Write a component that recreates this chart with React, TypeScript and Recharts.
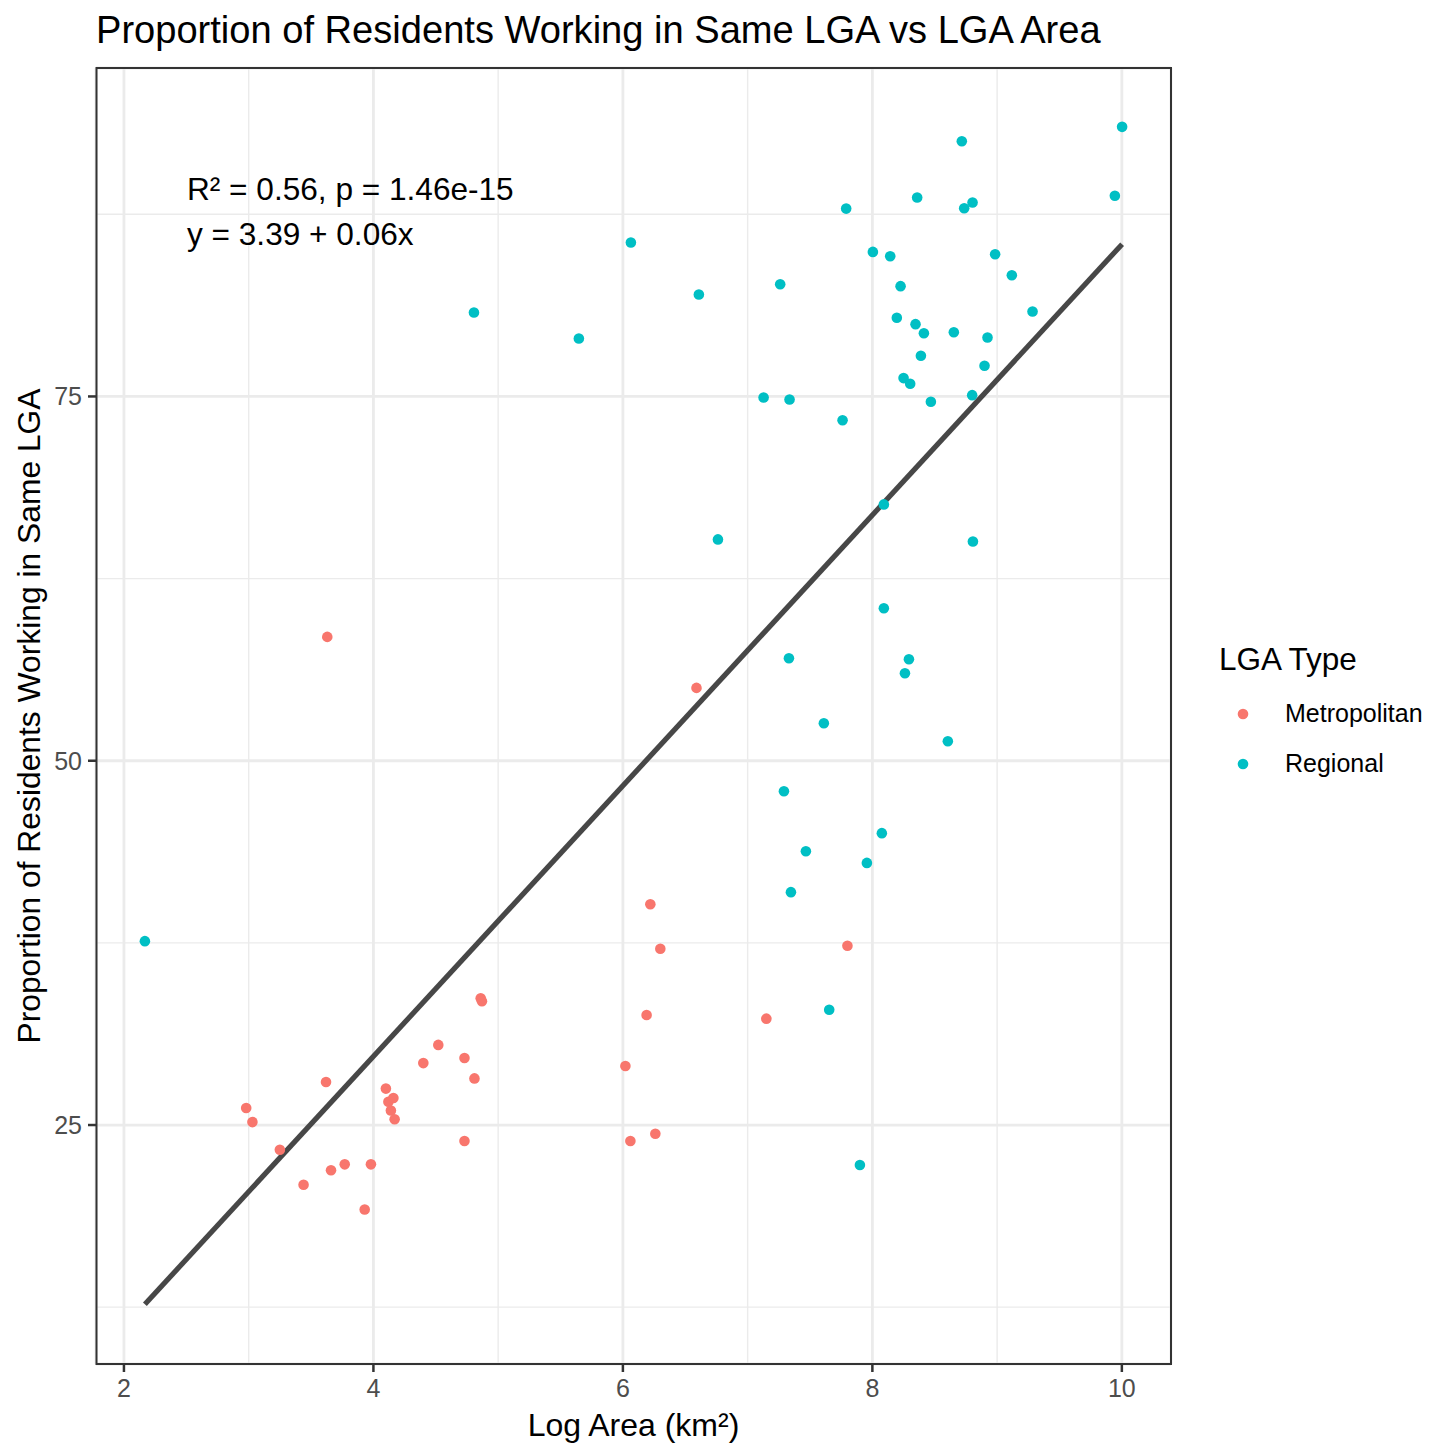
import { CartesianGrid, ReferenceLine, Scatter, ScatterChart, XAxis, YAxis } from "recharts";

// Log area (x) and share working in the same LGA (y).
const metroX = [
  2.98, 3.03, 3.25, 3.44, 3.62, 3.63, 3.66, 3.77, 3.93, 3.98, 4.1, 4.12, 4.16, 4.14, 4.17, 4.4,
  4.52, 4.73, 4.73, 4.81, 4.86, 4.87, 6.02, 6.06, 6.19, 6.22, 6.26, 6.3, 6.59, 7.15, 7.8,
];
const metroY = [
  26.17, 25.2, 23.3, 20.9, 27.95, 58.5, 21.9, 22.3, 19.2, 22.3, 27.5, 26.6, 26.85, 26.0, 25.4,
  29.25, 30.5, 29.6, 23.9, 28.2, 33.7, 33.5, 29.05, 23.9, 32.55, 40.15, 24.4, 37.1, 55.0, 32.3,
  37.3,
];

const regionalX = [
  2.168, 4.806, 5.647, 6.064, 6.609, 6.762, 7.128, 7.261, 7.336, 7.331, 7.291, 7.347, 7.467, 7.611,
  7.654, 7.761, 7.79, 7.9, 7.956, 8.004, 8.076, 8.092, 8.092, 8.143, 8.196, 8.226, 8.25, 8.261,
  8.293, 8.303, 8.346, 8.359, 8.389, 8.413, 8.469, 8.605, 8.653, 8.717, 8.736, 8.803, 8.8, 8.806,
  8.899, 8.923, 8.984, 9.118, 9.284, 9.944, 10.002,
];
const regionalY = [
  37.62, 80.76, 78.98, 85.56, 82.0, 65.19, 74.93, 82.7, 74.79, 57.03, 47.91, 40.98, 43.79, 52.57,
  32.91, 73.37, 87.89, 22.26, 42.99, 84.92, 45.03, 67.59, 60.46, 84.62, 80.4, 82.57, 76.26, 56.0,
  56.96, 75.87, 79.96, 88.65, 77.79, 79.34, 74.64, 51.34, 79.41, 92.51, 87.91, 88.31, 75.09, 65.05,
  77.11, 79.05, 84.76, 83.32, 80.83, 88.77, 93.5,
];

// fitted line end points
const fitX = [2.168, 10.002];
const fitY = [12.7, 85.45];

const xTicks = [2, 4, 6, 8, 10];
const xMinor = [3, 5, 7, 9];
const yTicks = [25, 50, 75];
const yMinor = [12.5, 37.5, 62.5, 87.5];

const metroData = metroX.map((x, i) => ({ x, y: metroY[i] }));
const regionalData = regionalX.map((x, i) => ({ x, y: regionalY[i] }));

const font = '"Liberation Sans", Arial, sans-serif';
const metroColor = "#F8766D";
const regionalColor = "#00BFC4";

function Dot(props: any) {
  const { cx, cy, fill } = props;
  if (cx == null || cy == null) return null;
  return <circle cx={cx} cy={cy} r={5.3} fill={fill} />;
}

export default function App() {
  const tickStyle = { fill: "#4D4D4D", fontSize: 25, fontFamily: font };

  return (
    <div style={{ position: "absolute", left: 0, top: 0, width: 1456, height: 1456, background: "#fff" }}>
      <ScatterChart width={1456} height={1456} margin={{ top: 68, right: 285, bottom: 32, left: 36 }}>
        <CartesianGrid
          stroke="#EBEBEB"
          strokeWidth={1.4}
          horizontalValues={yMinor}
          verticalValues={xMinor}
        />
        <CartesianGrid stroke="#EBEBEB" strokeWidth={2.8} />
        <XAxis
          dataKey="x"
          type="number"
          domain={[1.776, 10.394]}
          ticks={xTicks}
          allowDataOverflow
          height={60}
          axisLine={false}
          tickLine={{ stroke: "#333333", strokeWidth: 2.5 }}
          tickSize={8}
          tickMargin={7}
          tick={tickStyle}
        />
        <YAxis
          dataKey="y"
          type="number"
          domain={[8.6, 97.54]}
          ticks={yTicks}
          allowDataOverflow
          width={60}
          axisLine={false}
          tickLine={{ stroke: "#333333", strokeWidth: 2.5 }}
          tickSize={8}
          tickMargin={6}
          tick={tickStyle}
        />
        <Scatter data={metroData} fill={metroColor} shape={<Dot />} isAnimationActive={false} />
        <Scatter data={regionalData} fill={regionalColor} shape={<Dot />} isAnimationActive={false} />
        <ReferenceLine
          segment={[
            { x: fitX[0], y: fitY[0] },
            { x: fitX[1], y: fitY[1] },
          ]}
          stroke="#474747"
          strokeWidth={5.2}
        />
      </ScatterChart>

      <svg
        width={1456}
        height={1456}
        style={{ position: "absolute", left: 0, top: 0, pointerEvents: "none" }}
        fontFamily={font}
      >
        <rect x={96.5} y={68} width={1074.5} height={1296} fill="none" stroke="#333333" strokeWidth={2} />
        <text x={96} y={43} fontSize={38.1} fill="#000">
          Proportion of Residents Working in Same LGA vs LGA Area
        </text>
        <text x={187} y={200} fontSize={31.6} fill="#000">
          R² = 0.56, p = 1.46e-15
        </text>
        <text x={187} y={245} fontSize={31.6} fill="#000">
          y = 3.39 + 0.06x
        </text>
        <text x={633.5} y={1436} fontSize={32} fill="#000" textAnchor="middle">
          Log Area (km²)
        </text>
        <text
          x={40}
          y={716}
          fontSize={31.8}
          fill="#000"
          textAnchor="middle"
          transform="rotate(-90 40 716)"
        >
          Proportion of Residents Working in Same LGA
        </text>

        <text x={1219} y={670} fontSize={31.5} fill="#000">
          LGA Type
        </text>
        <circle cx={1243} cy={714} r={5.3} fill={metroColor} />
        <text x={1285} y={722} fontSize={25} fill="#000">
          Metropolitan
        </text>
        <circle cx={1243} cy={764} r={5.3} fill={regionalColor} />
        <text x={1285} y={772} fontSize={25} fill="#000">
          Regional
        </text>
      </svg>
    </div>
  );
}
